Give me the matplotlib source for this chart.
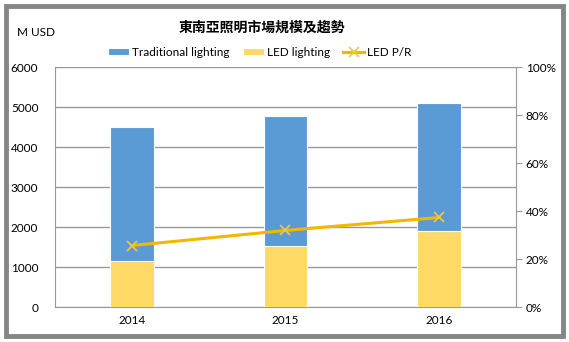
import matplotlib
matplotlib.use("Agg")
import matplotlib.pyplot as plt
from matplotlib.patches import Rectangle
import numpy as np

years = ["2014", "2015", "2016"]
led = [1150, 1525, 1900]
traditional = [3350, 3250, 3200]
led_pr = [0.256, 0.319, 0.373]
left_ticks = [0, 1000, 2000, 3000, 4000, 5000, 6000]
right_ticks = [0, 0.2, 0.4, 0.6, 0.8, 1.0]

plt.rcParams['font.family'] = ['Lato', 'Noto Sans CJK TC', 'DejaVu Sans']

fig = plt.figure(figsize=(5.69, 3.42), dpi=100)
W, H = 569, 342
ax = fig.add_axes([55 / W, 1 - 307 / H, (516 - 55) / W, 240 / H])
x = np.arange(len(years))
bw = 0.285
blue = '#5b9bd5'
yellow = '#ffd966'
ax.bar(x, led, bw, color=yellow, label='LED lighting', zorder=3,
       edgecolor='white', linewidth=0.8)
ax.bar(x, traditional, bw, bottom=led, color=blue, label='Traditional lighting', zorder=3,
       edgecolor='white', linewidth=0.8)
ax.set_xlim(-0.5, 2.5)
ax.set_ylim(0, 6000)
ax.set_yticks(left_ticks)
ax.set_yticklabels([str(t) for t in left_ticks], fontsize=8.5)
ax.set_xticks(x)
ax.set_xticklabels(years, fontsize=8.5)
ax.tick_params(axis='both', length=0, pad=6)
ax.tick_params(axis='y', pad=12)
ax.grid(axis='y', color='#999999', linewidth=1, zorder=0)
ax.spines['top'].set_visible(False)
ax.spines['right'].set_visible(False)
for s in ['left', 'bottom']:
    ax.spines[s].set_color('#999999')

ax2 = ax.twinx()
ax2.plot(x, led_pr, color='#f2b800', linewidth=2.2, marker='x', markersize=7,
         markeredgecolor='#f5c842', markeredgewidth=1.2, label='LED P/R', zorder=5)
ax2.set_ylim(0, 1)
ax2.set_yticks(right_ticks)
ax2.set_yticklabels([f"{int(t*100)}%" for t in right_ticks], fontsize=8.5)
ax2.tick_params(axis='y', length=4, color='#999999', pad=3)
ax2.spines['top'].set_visible(False)
ax2.spines['left'].set_visible(False)
ax2.spines['bottom'].set_visible(False)
ax2.spines['right'].set_color('#999999')

h1, l1 = ax.get_legend_handles_labels()
h2, l2 = ax2.get_legend_handles_labels()
order = [1, 0]
handles = [h1[i] for i in order] + h2
labels = [l1[i] for i in order] + l2
fig.legend(handles, labels, loc='center', bbox_to_anchor=(260 / W, 1 - 52 / H), ncol=3,
           frameon=False, fontsize=8.5, handlelength=1.8, handleheight=0.55, columnspacing=1.1,
           handletextpad=0.25)

fig.text(262 / W, 1 - 28 / H, '東南亞照明市場規模及趨勢', ha='center', va='center',
         fontsize=10, fontweight='bold', family=['Noto Sans CJK TC', 'DejaVu Sans'])
fig.text(17 / W, 1 - 32 / H, 'M USD', ha='left', va='center', fontsize=8.5)

# border frame
fig.patches.append(Rectangle((6 / W, 6 / H), (W - 12) / W, (H - 12) / H, transform=fig.transFigure,
                             fill=False, edgecolor='#868686', linewidth=3.5))

fig.savefig('out.png', dpi=100)
